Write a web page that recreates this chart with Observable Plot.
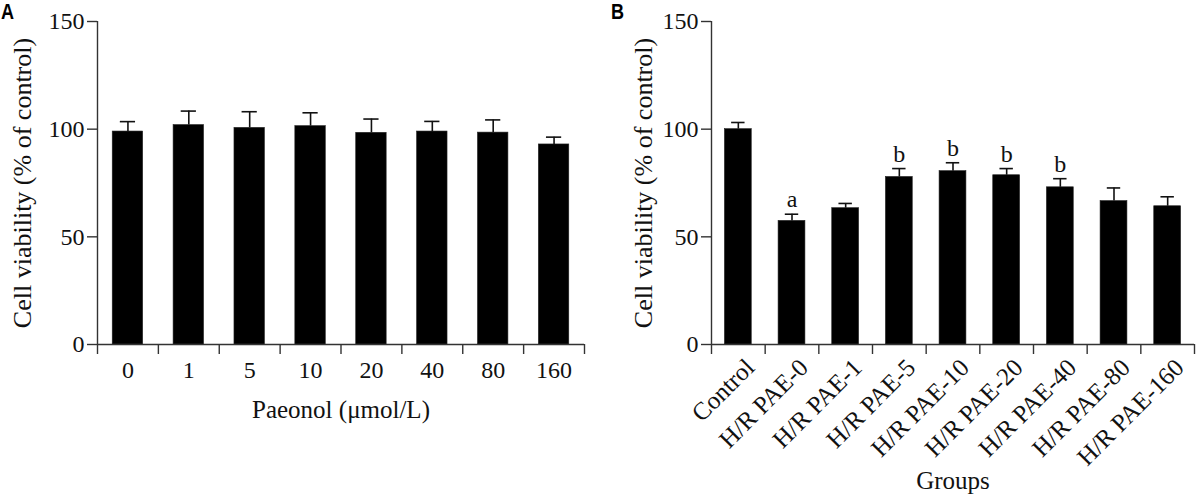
<!DOCTYPE html>
<html>
<head>
<meta charset="utf-8">
<script src="https://cdn.jsdelivr.net/npm/d3@7"></script>
<script src="https://cdn.jsdelivr.net/npm/@observablehq/plot@0.6"></script>
<style>
  html, body { margin: 0; padding: 0; background: #fff; }
  #wrap { position: relative; width: 1196px; height: 496px; overflow: hidden; }
  .panel { position: absolute; top: 0; }
  .tag { position: absolute; top: 0px; z-index: 2; line-height: 1.05; font-family: "Liberation Sans", Arial, sans-serif; font-weight: bold; font-size: 22px; transform: scaleX(0.82); transform-origin: left top; }
</style>
</head>
<body>
<div id="wrap">
  <div id="pa" class="panel" style="left:0px"></div>
  <div id="pb" class="panel" style="left:598px"></div>
  <div class="tag" style="left:1px">A</div>
  <div class="tag" style="left:611px">B</div>
</div>
<script>
// Panel A data
const catsA = ["0", "1", "5", "10", "20", "40", "80", "160"];
const meanA = [98.9, 101.9, 100.6, 101.4, 98.3, 98.9, 98.4, 92.9];
const errA  = [4.6, 6.5, 7.5, 6.2, 6.4, 4.7, 5.9, 3.4];

// Panel B data
const catsB = ["Control", "H/R PAE-0", "H/R PAE-1", "H/R PAE-5", "H/R PAE-10", "H/R PAE-20", "H/R PAE-40", "H/R PAE-80", "H/R PAE-160"];
const meanB = [100.0, 57.4, 63.3, 77.8, 80.5, 78.6, 73.0, 66.6, 64.2];
const errB  = [3.1, 3.1, 2.2, 3.9, 3.9, 3.1, 4.0, 6.1, 4.4];
const sigB  = ["", "a", "", "b", "b", "b", "b", "", ""];

const yTicks = [0, 50, 100, 150];
const yLabel = "Cell viability (% of control)";

const FONT = "Liberation Serif, Times New Roman, serif";

function panel({cats, mean, err, sig, xLabel, marginLeft, marginRight, labelOffsetY, rotated, xLabelDy}) {
  const rows = cats.map((c, i) => ({i, cat: c, mean: mean[i], err: err[i], sig: sig ? sig[i] : ""}));
  const n = cats.length;
  const marks = [
    Plot.rectY(rows, {x1: d => d.i + 0.25, x2: d => d.i + 0.75, y1: 0, y2: "mean", fill: "black", stroke: "#222", strokeWidth: 0.6}),
    Plot.ruleX(rows, {x: d => d.i + 0.5, y1: "mean", y2: d => d.mean + d.err, stroke: "#111", strokeWidth: 1.6}),
    Plot.ruleY(rows, {y: d => d.mean + d.err, x1: d => d.i + 0.375, x2: d => d.i + 0.625, stroke: "#111", strokeWidth: 1.6}),
    Plot.ruleY([0], {stroke: "#333", strokeWidth: 1.4}),
    Plot.ruleX([0], {y1: 0, y2: 150, stroke: "#333", strokeWidth: 1.4}),
    Plot.axisY({ticks: yTicks, tickSize: 10, tickPadding: 3, fontSize: 24, label: null, stroke: "#333", strokeWidth: 1.4}),
    Plot.axisY({ticks: [], label: yLabel, labelAnchor: "center", labelArrow: "none", labelOffset: labelOffsetY, fontSize: 26}),
    Plot.axisX({ticks: d3.range(n + 1), tickSize: 10, tickFormat: () => "", label: null, stroke: "#333", strokeWidth: 1.4}),
    Plot.text([xLabel], {frameAnchor: "bottom", text: d => d, dy: xLabelDy, fontSize: 25, lineAnchor: "middle"})
  ];
  if (rotated) {
    marks.push(Plot.text(rows, {x: d => d.i + 0.5, y: 0, text: "cat", rotate: -45, textAnchor: "end", lineAnchor: "top", dy: 12, dx: 5, fontSize: 25}));
  } else {
    marks.push(Plot.text(rows, {x: d => d.i + 0.5, y: 0, text: "cat", dy: 26, lineAnchor: "middle", fontSize: 24}));
  }
  if (sig) {
    marks.push(Plot.text(rows, {x: d => d.i + 0.5, y: d => d.mean + d.err, text: "sig", dy: -7, lineAnchor: "bottom", fontSize: 24}));
  }
  return Plot.plot({
    width: 598,
    height: 496,
    marginTop: 21,
    marginBottom: 152,
    marginLeft,
    marginRight,
    style: {fontFamily: FONT, fontSize: "24px", color: "#111", background: "white", overflow: "visible"},
    x: {type: "linear", domain: [0, n]},
    y: {domain: [0, 150]},
    marks
  });
}

document.getElementById("pa").append(panel({
  cats: catsA, mean: meanA, err: errA, sig: null,
  xLabel: "Paeonol (μmol/L)", marginLeft: 97, marginRight: 14, labelOffsetY: 85, rotated: false, xLabelDy: 65
}));
document.getElementById("pb").append(panel({
  cats: catsB, mean: meanB, err: errB, sig: sigB,
  xLabel: "Groups", marginLeft: 113, marginRight: 2, labelOffsetY: 78, rotated: true, xLabelDy: 136
}));
</script>
</body>
</html>
